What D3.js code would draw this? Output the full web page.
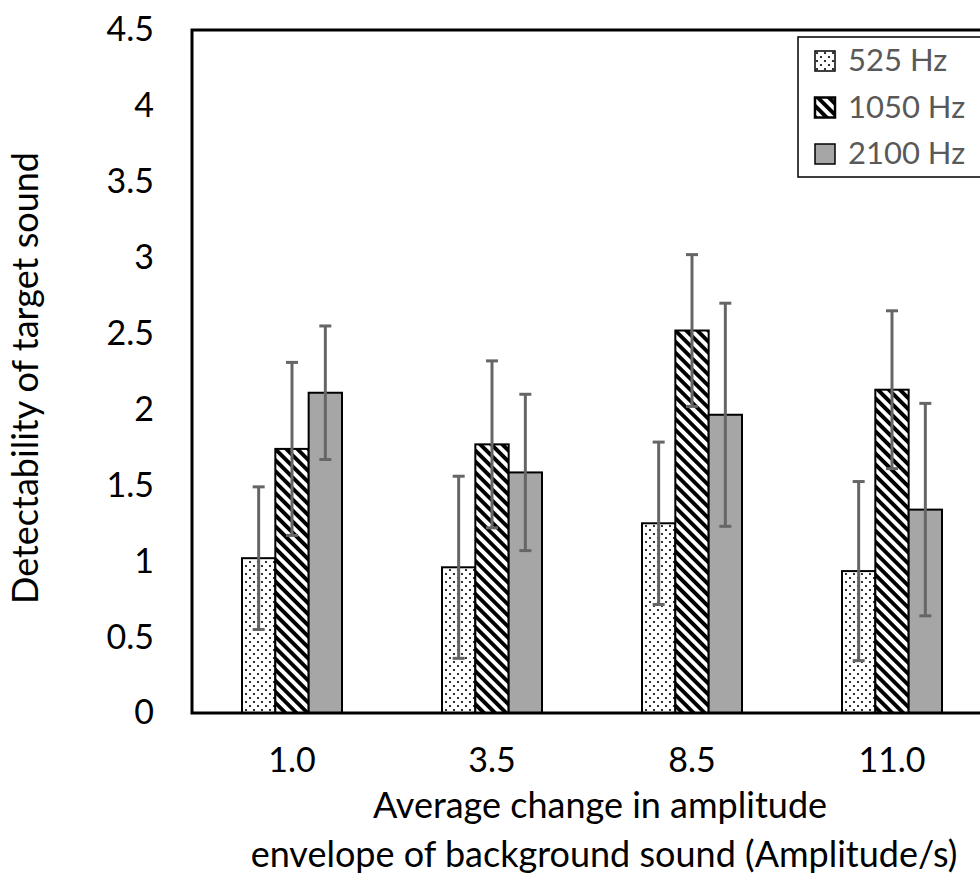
<!doctype html>
<html lang=en>
<head>
<meta charset="utf-8">
<title>Detectability</title>
<style>
body { margin: 0; background: white; overflow: hidden; }
svg text { font-family: Lato, "Open Sans", sans-serif; }
</style>
</head>
<body>
<div id=content></div>
<script src="https://cdn.jsdelivr.net/npm/d3@7"></script>
<script>
// data
var categories = ["1.0", "3.5", "8.5", "11.0"];
var series = ["525 Hz", "1050 Hz", "2100 Hz"];
var means525 = [1.02, 0.96, 1.25, 0.935];
var means1050 = [1.74, 1.77, 2.52, 2.13];
var means2100 = [2.11, 1.585, 1.965, 1.34];
var err525 = [0.47, 0.60, 0.535, 0.59];
var err1050 = [0.57, 0.55, 0.50, 0.52];
var err2100 = [0.44, 0.515, 0.735, 0.70];
var yTicks = [0, 0.5, 1, 1.5, 2, 2.5, 3, 3.5, 4, 4.5];

var means = [means525, means1050, means2100];
var errs = [err525, err1050, err2100];
var fills = ["url(#dots)", "url(#stripes)", "#a6a6a6"];

var rows = [];
categories.forEach(function(c, i){
  series.forEach(function(s, j){
    rows.push({cat: c, ser: s, v: means[j][i], e: errs[j][i], fill: fills[j]});
  });
});

var W = 980, H = 876;
// plot box                 t    r    b    l
var m = [30, 992, 713, 192];

var svg = d3.select("#content").append("svg")
  .attr("width", W).attr("height", H);

var defs = svg.append("defs");
var dots = defs.append("pattern").attr("id", "dots")
  .attr("patternUnits", "userSpaceOnUse").attr("width", 8).attr("height", 8);
dots.append("rect").attr("width", 8).attr("height", 8).attr("fill", "white");
dots.append("circle").attr("cx", 2).attr("cy", 2).attr("r", 1.1).attr("fill", "black");
dots.append("circle").attr("cx", 6).attr("cy", 6).attr("r", 1.1).attr("fill", "black");

var stripes = defs.append("pattern").attr("id", "stripes")
  .attr("patternUnits", "userSpaceOnUse").attr("width", 7.8).attr("height", 10)
  .attr("patternTransform", "rotate(-45)");
stripes.append("rect").attr("width", 7.8).attr("height", 10).attr("fill", "white");
stripes.append("rect").attr("width", 3.9).attr("height", 10).attr("fill", "black");

var x0 = d3.scaleBand().domain(categories).range([m[3], m[1]])
  .paddingInner(0.5).paddingOuter(0.25);
var x1 = d3.scaleBand().domain(series).range([0, x0.bandwidth()]);
var y = d3.scaleLinear().domain([0, 4.5]).range([m[2], m[0]]);

// bars
svg.append("g").selectAll("rect").data(rows).join("rect")
  .attr("x", d => x0(d.cat) + x1(d.ser))
  .attr("y", d => y(d.v))
  .attr("width", x1.bandwidth())
  .attr("height", d => y(0) - y(d.v))
  .attr("fill", d => d.fill)
  .attr("stroke", "black")
  .attr("stroke-width", 2);

// error bars
var eb = svg.append("g").attr("stroke", "#666").attr("stroke-width", 3);
rows.forEach(function(d){
  var cx = x0(d.cat) + x1(d.ser) + x1.bandwidth() / 2;
  eb.append("line").attr("x1", cx).attr("x2", cx)
    .attr("y1", y(d.v + d.e)).attr("y2", y(d.v - d.e));
  [d.v + d.e, d.v - d.e].forEach(function(t){
    eb.append("line").attr("x1", cx - 6).attr("x2", cx + 6)
      .attr("y1", y(t)).attr("y2", y(t));
  });
});

// plot border
svg.append("rect")
  .attr("x", m[3]).attr("y", m[0])
  .attr("width", m[1] - m[3]).attr("height", m[2] - m[0])
  .attr("fill", "none").attr("stroke", "black").attr("stroke-width", 3);

// y axis labels
var yAxis = d3.axisLeft(y).tickValues(yTicks).tickSize(0).tickPadding(38)
  .tickFormat(d3.format("~g"));
var gy = svg.append("g").attr("transform", "translate(" + m[3] + ",0)").call(yAxis);
gy.select(".domain").remove();
gy.selectAll("text").attr("font-size", 34).attr("fill", "black")
  .attr("font-family", "Lato, sans-serif");

// x axis labels
var xAxis = d3.axisBottom(x0).tickSize(0).tickPadding(35);
var gx = svg.append("g").attr("transform", "translate(0," + m[2] + ")").call(xAxis);
gx.select(".domain").remove();
gx.selectAll("text").attr("font-size", 34).attr("fill", "black")
  .attr("font-family", "Lato, sans-serif");

// titles
svg.append("text").attr("x", 600).attr("y", 818).attr("text-anchor", "middle")
  .attr("font-size", 36).text("Average change in amplitude");
svg.append("text").attr("x", 604).attr("y", 867).attr("text-anchor", "middle")
  .attr("font-size", 36).text("envelope of background sound (Amplitude/s)");
svg.append("text").attr("transform", "translate(38,378) rotate(-90)")
  .attr("text-anchor", "middle").attr("font-size", 36)
  .text("Detectability of target sound");

// legend
var lg = svg.append("g").attr("transform", "translate(798,37)");
lg.append("rect").attr("width", 220).attr("height", 140)
  .attr("fill", "white").attr("stroke", "black").attr("stroke-width", 1.5);
series.forEach(function(s, j){
  var row = lg.append("g").attr("transform", "translate(17," + (14 + j * 46.5) + ")");
  row.append("rect").attr("width", 20).attr("height", 20)
    .attr("fill", fills[j]).attr("stroke", "black").attr("stroke-width", j == 1 ? 2.5 : 1.5);
  row.append("text").attr("x", 33).attr("y", 20).attr("font-size", 31)
    .attr("fill", "#595959").text(s);
});
</script>
</body>
</html>
